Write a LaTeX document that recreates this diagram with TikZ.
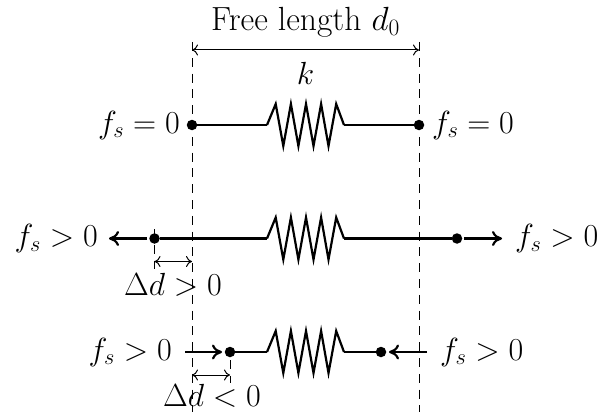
\documentclass[tikz,border=0pt]{standalone}
\usepackage{fix-cm}
\usetikzlibrary{arrows.meta}
\tikzset{
  lbl/.style={inner sep=0pt,font=\fontsize{32}{38}\selectfont},
  guide/.style={line width=1pt,dash pattern=on 9pt off 6.8pt},
  rod/.style={line width=2.2pt,line join=miter},
  force/.style={line width=2.2pt,-{To[length=10pt,width=15pt,line width=2.2pt]}},
  dim/.style={line width=1pt,{To[length=6pt,width=11pt]}-{To[length=6pt,width=11pt]}},
  ball/.style={circle,fill=black,inner sep=0pt,minimum size=10.5pt},
  pics/coil/.style={code={
    \draw[rod] (-38.5,0) -- (-29.8,-21) -- (-22.2,21) -- (-14.6,-21) -- (-7.1,21) -- (0.5,-21)
      -- (8,21) -- (15.6,-21) -- (23,21) -- (30.7,-21) -- (38.5,0);
  }}
}
\begin{document}
\begin{tikzpicture}[x=1pt,y=-1pt]
\useasboundingbox (0,0) rectangle (602,412);
% guides
\coordinate (gLt) at (192,42); \coordinate (gLb) at (192,412);
\coordinate (gRt) at (419,42); \coordinate (gRb) at (419,412);
\draw[guide] (gLt) -- (gLb);
\draw[guide] (gRt) -- (gRb);
% free length
\coordinate (fa) at (192,50); \coordinate (fb) at (419,50);
\draw[dim] (fa) -- (fb);
\node[lbl,font=\fontsize{33.5}{38}\selectfont] (free) at (305.5,22) {Free length $d_0$};
\node[lbl] (kl) at (305.5,73) {$k$};
% row 1
\node[ball] (a1) at (192,125) {};
\node[ball] (b1) at (419,125) {};
\coordinate (sa1) at (267,125); \coordinate (sb1) at (344,125);
\draw[rod] (a1) -- (sa1); \draw[rod] (sb1) -- (b1);
\pic at (305.5,125) {coil};
\node[lbl,anchor=east] (la1) at (180,125) {$f_s=0$};
\node[lbl,anchor=west] (lb1) at (432,125) {$f_s=0$};
% row 2
\node[ball] (a2) at (154.5,238.5) {};
\node[ball] (b2) at (457,238.5) {};
\coordinate (sa2) at (267,238.5); \coordinate (sb2) at (344,238.5);
\draw[rod] (a2) -- (sa2); \draw[rod] (sb2) -- (b2);
\pic at (305.5,238.5) {coil};
\node[lbl,anchor=east] (la2) at (98,238.5) {$f_s>0$};
\node[lbl,anchor=west] (lb2) at (515,238.5) {$f_s>0$};
\coordinate (fa2) at (147,238.5); \coordinate (fa2e) at (109,238.5);
\coordinate (fb2) at (464,238.5); \coordinate (fb2e) at (502,238.5);
\draw[force] (fa2) -- (fa2e);
\draw[force] (fb2) -- (fb2e);
\coordinate (t2) at (154.5,229); \coordinate (t2b) at (154.5,269);
\draw[guide] (t2) -- (t2b);
\coordinate (d2a) at (154.5,261.5); \coordinate (d2b) at (192,261.5);
\draw[dim] (d2a) -- (d2b);
\node[lbl] (dl2) at (173,285) {$\Delta d>0$};
% row 3
\node[ball] (a3) at (230,352) {};
\node[ball] (b3) at (381,352) {};
\coordinate (sa3) at (267,352); \coordinate (sb3) at (344,352);
\draw[rod] (a3) -- (sa3); \draw[rod] (sb3) -- (b3);
\pic at (305.5,352) {coil};
\node[lbl,anchor=east] (la3) at (172,352) {$f_s>0$};
\node[lbl,anchor=west] (lb3) at (440,352) {$f_s>0$};
\coordinate (fa3) at (185,352); \coordinate (fa3e) at (222,352);
\coordinate (fb3) at (427,352); \coordinate (fb3e) at (389,352);
\draw[force] (fa3) -- (fa3e);
\draw[force] (fb3) -- (fb3e);
\coordinate (t3) at (230,360); \coordinate (t3b) at (230,383);
\draw[guide] (t3) -- (t3b);
\coordinate (d3a) at (192,375); \coordinate (d3b) at (230,375);
\draw[dim] (d3a) -- (d3b);
\node[lbl] (dl3) at (212,396) {$\Delta d<0$};
\end{tikzpicture}
\end{document}
